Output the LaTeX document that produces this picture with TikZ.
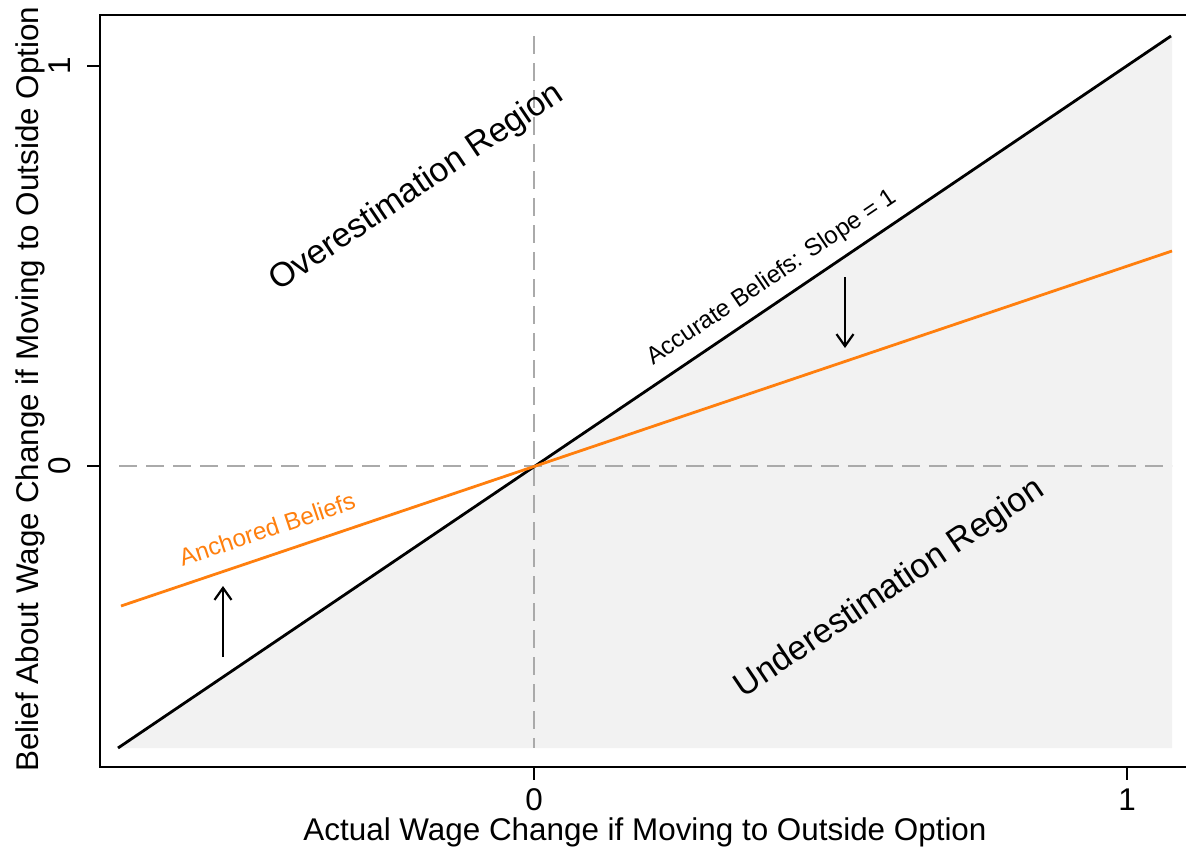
\documentclass[tikz,border=0pt]{standalone}
\usepackage{fontspec}
\setmainfont{Liberation Sans}
\usetikzlibrary{arrows.meta}
\definecolor{anchororange}{RGB}{255,127,14}
\definecolor{shadegray}{RGB}{242,242,242}
\definecolor{guidegray}{RGB}{170,170,170}
\begin{document}
\begin{tikzpicture}[x=1pt,y=-1pt,
  axisline/.style={line width=2.6pt},
  tickline/.style={line width=2pt},
  guide/.style={guidegray,line width=2pt,dash pattern=on 18pt off 9pt},
  accline/.style={black,line width=2.8pt},
  anchline/.style={anchororange,line width=2.8pt},
  shiftarrow/.style={line width=2.2pt,-{Straight Barb[length=12pt,width=17pt,line width=2.2pt]}},
  bigfont/.style={font=\fontsize{31.4}{36}\selectfont},
  regfont/.style={font=\fontsize{34}{39}\selectfont},
  smallfont/.style={font=\fontsize{24.3}{28}\selectfont},
  lbl/.style={inner sep=0pt}]
\useasboundingbox (0,0) rectangle (1186,852);
% coordinates
\coordinate (accL) at (118,748);
\coordinate (accR) at (1171,36);
\coordinate (shR) at (1172,36);
\coordinate (shBR) at (1172,748);
\coordinate (ancL) at (121,606);
\coordinate (ancR) at (1172,251);
\coordinate (hgL) at (119,466);
\coordinate (hgR) at (1172,466);
\coordinate (vgT) at (534,36);
\coordinate (vgB) at (534,748);
% shaded underestimation area
\fill[shadegray] (accL) -- (shR) -- (shBR) -- cycle;
% guides
\draw[guide] (hgL) -- (hgR);
\draw[guide] (vgT) -- (vgB);
% lines
\draw[accline] (accL) -- (accR);
\draw[anchline] (ancL) -- (ancR);
% arrows
\coordinate (upA) at (223,657);
\coordinate (upB) at (223,586);
\coordinate (dnA) at (845,277);
\coordinate (dnB) at (845,348);
\draw[shiftarrow] (upA) -- (upB);
\draw[shiftarrow] (dnA) -- (dnB);
% frame / axes
\coordinate (fTL) at (100,15);
\coordinate (fTR) at (1186,15);
\coordinate (fBL) at (100,767);
\coordinate (fBR) at (1186,767);
\draw[axisline] (fTR) -- (fTL) -- (fBL) -- (fBR);
% ticks
\coordinate (ty1) at (100,66);
\coordinate (ty1o) at (87,66);
\coordinate (ty0) at (100,466);
\coordinate (ty0o) at (87,466);
\coordinate (tx0) at (534,767);
\coordinate (tx0o) at (534,780);
\coordinate (tx1) at (1127,767);
\coordinate (tx1o) at (1127,780);
\draw[tickline] (ty1) -- (ty1o);
\draw[tickline] (ty0) -- (ty0o);
\draw[tickline] (tx0) -- (tx0o);
\draw[tickline] (tx1) -- (tx1o);
% tick labels
\node[lbl,bigfont,rotate=90] (ly1) at (60,66) {1};
\node[lbl,bigfont,rotate=90] (ly0) at (60,466) {0};
\node[lbl,bigfont] (lx0) at (534,800) {0};
\node[lbl,bigfont] (lx1) at (1127,800) {1};
% axis titles
\node[lbl,bigfont] (xtitle) at (645,832) {Actual Wage Change if Moving to Outside Option};
\node[lbl,bigfont,rotate=90] (ytitle) at (30,389) {Belief About Wage Change if Moving to Outside Option};
% region labels
\node[lbl,regfont,rotate=34] (over) at (417,188) {Overestimation Region};
\node[lbl,regfont,rotate=34] (under) at (890,589) {Underestimation Region};
% line labels
\node[lbl,smallfont,rotate=34] (acc) at (772,278) {Accurate Beliefs: Slope = 1};
\node[lbl,smallfont,rotate=18.5,text=anchororange] (anc) at (267,529) {Anchored Beliefs};
\end{tikzpicture}
\end{document}
